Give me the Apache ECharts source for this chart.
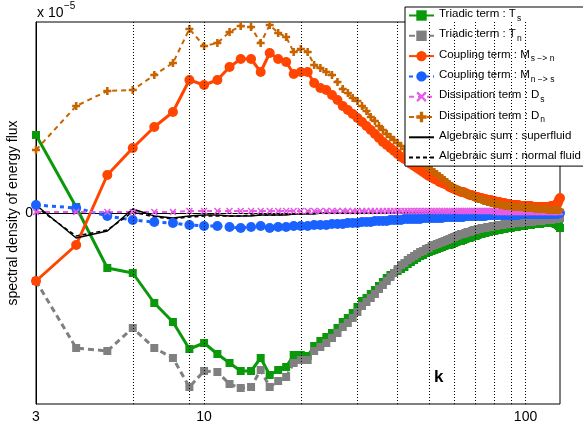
<!DOCTYPE html>
<html><head><meta charset="utf-8">
<script src="https://cdn.jsdelivr.net/npm/echarts@6/dist/echarts.min.js"></script>
<style>html,body{margin:0;padding:0;background:#fff}#c{width:583px;height:428px}</style>
</head><body><div id="c"></div>
<script>
// wavenumber k
const k = [3,4,5,6,7,8,9,10,11,12,
13,14,15,16,17,18,19,20,21,22,
23,24,25,26,27,28,29,30,31,32,
33,34,35,36,37,38,39,40,41,42,
43,44,45,46,47,48,49,50,51,52,
53,54,55,56,57,58,59,60,61,62,
63,64,65,66,67,68,69,70,71,72,
73,74,75,76,77,78,79,80,81,82,
83,84,85,86,87,88,89,90,91,92,
93,94,95,96,97,98,99,100,101,102,
103,104,105,106,107,108,109,110,111,112,
113,114,115,116,117,118,119,120,121,122,
123,124,125,126,127,128];

// values in units of 1e-5
const triadicS = [0.78,0.06,-0.55,-0.60,-0.90,-1.09,-1.36,-1.30,-1.41,-1.50,
-1.58,-1.58,-1.45,-1.62,-1.57,-1.54,-1.42,-1.42,-1.43,-1.33,
-1.28,-1.24,-1.20,-1.15,-1.09,-1.05,-1.00,-0.94,-0.88,-0.85,
-0.81,-0.77,-0.73,-0.69,-0.65,-0.62,-0.60,-0.58,-0.56,-0.54,
-0.51,-0.49,-0.47,-0.45,-0.43,-0.42,-0.40,-0.39,-0.38,-0.37,
-0.36,-0.35,-0.34,-0.33,-0.32,-0.32,-0.31,-0.30,-0.29,-0.28,
-0.28,-0.27,-0.26,-0.25,-0.25,-0.24,-0.23,-0.23,-0.22,-0.21,
-0.21,-0.20,-0.20,-0.19,-0.19,-0.18,-0.18,-0.18,-0.17,-0.17,
-0.17,-0.16,-0.16,-0.16,-0.15,-0.15,-0.15,-0.15,-0.14,-0.14,
-0.14,-0.14,-0.13,-0.13,-0.13,-0.13,-0.13,-0.12,-0.12,-0.12,
-0.12,-0.12,-0.11,-0.11,-0.11,-0.11,-0.11,-0.11,-0.11,-0.10,
-0.10,-0.10,-0.10,-0.10,-0.10,-0.10,-0.10,-0.10,-0.10,-0.10,
-0.10,-0.11,-0.11,-0.12,-0.13,-0.15];

const triadicN = [-0.68,-1.35,-1.38,-1.15,-1.35,-1.45,-1.74,-1.58,-1.59,-1.71,
-1.75,-1.74,-1.57,-1.74,-1.68,-1.64,-1.50,-1.47,-1.47,-1.38,
-1.34,-1.30,-1.25,-1.20,-1.14,-1.10,-1.05,-0.99,-0.93,-0.89,
-0.85,-0.81,-0.76,-0.72,-0.68,-0.64,-0.60,-0.56,-0.52,-0.50,
-0.47,-0.45,-0.43,-0.41,-0.39,-0.38,-0.36,-0.35,-0.33,-0.32,
-0.31,-0.30,-0.29,-0.28,-0.27,-0.26,-0.25,-0.24,-0.23,-0.22,
-0.21,-0.21,-0.20,-0.19,-0.19,-0.18,-0.17,-0.17,-0.16,-0.16,
-0.15,-0.15,-0.15,-0.14,-0.14,-0.14,-0.13,-0.13,-0.13,-0.12,
-0.12,-0.12,-0.12,-0.11,-0.11,-0.11,-0.11,-0.11,-0.10,-0.10,
-0.10,-0.10,-0.10,-0.10,-0.10,-0.10,-0.09,-0.09,-0.09,-0.09,
-0.09,-0.09,-0.09,-0.08,-0.08,-0.08,-0.08,-0.08,-0.08,-0.08,
-0.07,-0.07,-0.07,-0.07,-0.07,-0.07,-0.07,-0.07,-0.06,-0.06,
-0.06,-0.06,-0.06,-0.05,-0.05,-0.05];

const couplingSN = [-0.68,-0.32,0.38,0.65,0.86,1.01,1.33,1.28,1.33,1.46,
1.54,1.54,1.41,1.60,1.54,1.51,1.39,1.41,1.41,1.30,
1.25,1.23,1.18,1.13,1.07,1.03,0.99,0.95,0.91,0.87,
0.83,0.79,0.75,0.71,0.68,0.65,0.62,0.59,0.56,0.54,
0.52,0.49,0.47,0.45,0.43,0.41,0.39,0.37,0.36,0.34,
0.33,0.31,0.30,0.29,0.28,0.26,0.25,0.24,0.23,0.22,
0.21,0.21,0.20,0.19,0.18,0.18,0.17,0.16,0.16,0.15,
0.15,0.14,0.14,0.13,0.13,0.13,0.12,0.12,0.11,0.11,
0.11,0.10,0.10,0.10,0.09,0.09,0.09,0.08,0.08,0.08,
0.08,0.08,0.08,0.07,0.07,0.07,0.07,0.07,0.07,0.07,
0.07,0.07,0.06,0.06,0.06,0.06,0.06,0.06,0.06,0.06,
0.06,0.06,0.06,0.06,0.06,0.06,0.06,0.07,0.07,0.07,
0.07,0.08,0.09,0.10,0.13,0.15];

const couplingNS = [0.08,0.05,-0.03,-0.07,-0.09,-0.10,-0.12,-0.13,-0.13,-0.14,
-0.15,-0.14,-0.13,-0.15,-0.14,-0.14,-0.13,-0.13,-0.13,-0.12,
-0.12,-0.12,-0.11,-0.11,-0.11,-0.10,-0.10,-0.10,-0.09,-0.09,
-0.09,-0.08,-0.08,-0.08,-0.08,-0.07,-0.07,-0.07,-0.07,-0.06,
-0.06,-0.06,-0.06,-0.06,-0.06,-0.05,-0.05,-0.05,-0.05,-0.05,
-0.05,-0.05,-0.05,-0.04,-0.04,-0.04,-0.04,-0.04,-0.04,-0.04,
-0.04,-0.04,-0.03,-0.03,-0.03,-0.03,-0.03,-0.03,-0.03,-0.03,
-0.03,-0.03,-0.03,-0.02,-0.02,-0.02,-0.02,-0.02,-0.02,-0.02,
-0.02,-0.02,-0.02,-0.02,-0.02,-0.02,-0.02,-0.02,-0.02,-0.02,
-0.02,-0.02,-0.02,-0.01,-0.01,-0.01,-0.01,-0.01,-0.01,-0.01,
-0.01,-0.01,-0.01,-0.01,-0.01,-0.01,-0.01,-0.01,-0.01,-0.01,
-0.01,-0.01,-0.01,-0.01,-0.01,-0.01,-0.01,-0.01,-0.01,-0.01,
-0.01,-0.01,-0.01,-0.01,0.00,0.00];

const dissipS = [0.01,0.01,0.01,0.01,0.01,0.01,0.02,0.02,0.02,0.02,
0.02,0.02,0.02,0.02,0.02,0.02,0.02,0.02,0.02,0.02,
0.02,0.02,0.02,0.02,0.02,0.02,0.02,0.02,0.02,0.02,
0.02,0.02,0.02,0.02,0.02,0.02,0.02,0.02,0.02,0.02,
0.02,0.02,0.02,0.02,0.02,0.02,0.02,0.02,0.02,0.02,
0.02,0.02,0.02,0.02,0.02,0.02,0.02,0.02,0.02,0.02,
0.02,0.02,0.02,0.02,0.02,0.02,0.02,0.02,0.02,0.02,
0.02,0.02,0.02,0.02,0.02,0.02,0.02,0.02,0.01,0.01,
0.01,0.01,0.01,0.01,0.01,0.01,0.01,0.01,0.01,0.01,
0.01,0.01,0.01,0.01,0.01,0.01,0.01,0.01,0.01,0.01,
0.01,0.01,0.01,0.01,0.01,0.01,0.01,0.01,0.01,0.01,
0.01,0.01,0.01,0.01,0.01,0.01,0.01,0.01,0.01,0.01,
0.01,0.01,0.01,0.01,0.01,0.01];

const dissipN = [0.63,1.07,1.22,1.23,1.38,1.50,1.84,1.67,1.70,1.81,
1.87,1.86,1.70,1.88,1.80,1.76,1.61,1.64,1.61,1.48,
1.45,1.41,1.38,1.31,1.24,1.20,1.15,1.12,1.07,1.02,
0.96,0.92,0.87,0.83,0.79,0.76,0.73,0.70,0.67,0.64,
0.61,0.58,0.56,0.54,0.52,0.50,0.47,0.45,0.43,0.41,
0.39,0.37,0.35,0.33,0.31,0.29,0.27,0.25,0.24,0.23,
0.22,0.21,0.20,0.19,0.18,0.17,0.16,0.15,0.14,0.14,
0.13,0.12,0.12,0.11,0.11,0.10,0.10,0.09,0.09,0.09,
0.08,0.08,0.08,0.07,0.07,0.07,0.07,0.07,0.06,0.06,
0.06,0.06,0.06,0.06,0.06,0.06,0.05,0.05,0.05,0.05,
0.05,0.05,0.05,0.05,0.04,0.04,0.04,0.04,0.04,0.04,
0.04,0.04,0.04,0.04,0.03,0.03,0.03,0.03,0.03,0.03,
0.03,0.03,0.03,0.03,0.03,0.03];

const sumSuper = [0.08,-0.25,-0.18,0.04,-0.03,-0.05,-0.03,-0.02,-0.02,-0.03,
-0.03,-0.03,-0.02,-0.02,-0.02,-0.02,-0.01,-0.01,-0.01,-0.01,
0,0,0,0,0,0,0,0,0,0,
0,0,0,0,0,0,0,0,0,0,
0,0,0,0,0,0,0,0,0,0,
0,0,0,0,0,0,0,0,0,0,
0,0,0,0,0,0,0,0,0,0,
0,0,0,0,0,0,0,0,0,0,
0,0,0,0,0,0,0,0,0,0,
0,0,0,0,0,0,0,0,0,0,
0,0,0,0,0,0,0,0,0,0,
0,0,0,0,0,0,0,0,0,0,
0,0,0,0,0,0];

const sumNormal = [0.06,-0.23,-0.17,0.01,-0.04,-0.06,-0.04,-0.03,-0.03,-0.03,
-0.03,-0.02,-0.02,-0.02,-0.02,-0.01,-0.01,-0.01,0,0,
0,0,0,0,0,0,0,0,0,0,
0,0,0,0,0,0,0,0,0,0,
0,0,0,0,0,0,0,0,0,0,
0,0,0,0,0,0,0,0,0,0,
0,0,0,0,0,0,0,0,0,0,
0,0,0,0,0,0,0,0,0,0,
0,0,0,0,0,0,0,0,0,0,
0,0,0,0,0,0,0,0,0,0,
0,0,0,0,0,0,0,0,0,0,
0,0,0,0,0,0,0,0,0,0,
0,0,0,0,0,0];

// grid lines (k) and tick labels
const gridK = [6,9,10,20,30,40,50,60,70,80,90,100];
const xTickLabels = [3,10,100];

const legendMain = ['Triadic term : T','Triadic term : T','Coupling term : M','Coupling term : M',
  'Dissipation term : D','Dissipation term : D','Algebraic sum : superfluid','Algebraic sum : normal fluid'];
const legendSub = ['s','n','s \u2212> n','n \u2212> s','s','n','',''];

const FONT = 'Liberation Sans, Arial, Helvetica, sans-serif';
const PLUS = 'path://M3.4,0H6.6V3.4H10V6.6H6.6V10H3.4V6.6H0V3.4H3.4Z';
const CROSS = 'path://M0,1.6L1.6,0L5,3.4L8.4,0L10,1.6L6.6,5L10,8.4L8.4,10L5,6.6L1.6,10L0,8.4L3.4,5Z';

const valueSets = [triadicS, triadicN, couplingSN, couplingNS, dissipS, dissipN, sumSuper, sumNormal];
const styles = [
  {color:'#0a990a', width:3, type:'solid', symbol:'rect', size:8},
  {color:'#808080', width:3, type:[6,4], symbol:'rect', size:8},
  {color:'#ff4500', width:3, type:'solid', symbol:'circle', size:10},
  {color:'#1a62ff', width:3, type:[4,4], symbol:'circle', size:10},
  {color:'#e65ce6', width:2, type:[5,4], symbol:CROSS, size:7},
  {color:'#c86400', width:2, type:[5,4], symbol:PLUS, size:8},
  {color:'#000000', width:1.5, type:'solid', symbol:'none', size:0},
  {color:'#000000', width:1.5, type:[4,3], symbol:'none', size:0}
];

const seriesNames = legendMain.map((m,i)=> m + '_' + (legendSub[i] || i));
const legendFmt = {};
seriesNames.forEach((n,i)=>{
  legendFmt[n] = '{m|' + legendMain[i] + '}{s|' + (legendSub[i] || ' ') + '}';
});

const series = [{
  type:'line', name:'grid', data:[], silent:true, z:1,
  markLine:{silent:true, symbol:['none','none'], animation:false,
    label:{show:false}, lineStyle:{color:'#000', type:[1,2], width:1},
    emphasis:{disabled:true},
    data: gridK.map(v=>({xAxis:v}))}
}];
valueSets.forEach((vals,i)=>{
  const st = styles[i];
  series.push({
    type:'line', name:seriesNames[i], z:2,
    data: k.map((x,j)=>[x, vals[j]]),
    showSymbol: st.symbol !== 'none', showAllSymbol:true,
    symbol: st.symbol, symbolSize: st.size, clip:false,
    lineStyle:{color:st.color, width:st.width, type:st.type},
    itemStyle:{color:st.color, borderWidth:0},
    emphasis:{disabled:true}
  });
});

const chart = echarts.init(document.getElementById('c'), null, {renderer:'canvas'});
chart.setOption({
  animation:false,
  backgroundColor:'#fff',
  textStyle:{fontFamily:FONT},
  grid:{left:36, right:23, top:22, bottom:24, containLabel:false, outerBoundsMode:'none',
    show:true, borderColor:'#000', borderWidth:1, backgroundColor:'#fff'},
  xAxis:{type:'log', logBase:10, min:3, max:128,
    axisLine:{show:true, lineStyle:{color:'#000', width:1}},
    axisTick:{show:false}, splitLine:{show:false}, minorTick:{show:false}, minorSplitLine:{show:false},
    axisLabel:{color:'#000', fontSize:14, fontFamily:FONT, margin:6, showMaxLabel:false,
      formatter:(v)=>{const r=Math.round(v); return (xTickLabels.indexOf(r)>=0 && Math.abs(v-r)<1e-6)? String(r):'';}}
  },
  yAxis:{type:'value', min:-1.91, max:1.91, interval:1.91,
    axisLine:{show:true, lineStyle:{color:'#000', width:1}},
    axisTick:{show:false}, splitLine:{show:false},
    axisLabel:{color:'#000', fontSize:14, fontFamily:FONT, margin:3,
      formatter:(v)=> Math.abs(v)<1e-9 ? '0' : ''},
    name:'spectral density of energy flux', nameLocation:'middle', nameGap:16, nameMoveOverlap:false,
    nameTextStyle:{color:'#000', fontSize:14, fontFamily:FONT}
  },
  legend:{
    data: seriesNames.map((n,i)=> i>=6 ? {name:n, itemStyle:{opacity:0}} : n),
    orient:'vertical', left:405, top:7,
    padding:[1,2,1,3], itemGap:5.3, itemWidth:25, itemHeight:13,
    backgroundColor:'#fff', borderColor:'#000', borderWidth:1, borderRadius:0,
    selectedMode:false,
    formatter:(n)=>legendFmt[n],
    textStyle:{color:'#000', fontFamily:FONT, fontSize:11.5,
      rich:{
        m:{fontSize:11.5, fontFamily:FONT, color:'#000', verticalAlign:'top'},
        s:{fontSize:8.5, fontFamily:FONT, color:'#000', verticalAlign:'bottom', padding:[6,0,0,1]}
      }}
  },
  graphic:[
    {type:'text', left:37, top:6, style:{text:'x 10', fontSize:14, fontFamily:FONT, fill:'#000'}},
    {type:'text', left:64, top:1, style:{text:'\u22125', fontSize:10, fontFamily:FONT, fill:'#000'}},
    {type:'text', left:434, top:369, style:{text:'k', fontSize:17, fontWeight:'bold', fontFamily:FONT, fill:'#000'}}
  ],
  series: series
});
</script>
</body></html>
